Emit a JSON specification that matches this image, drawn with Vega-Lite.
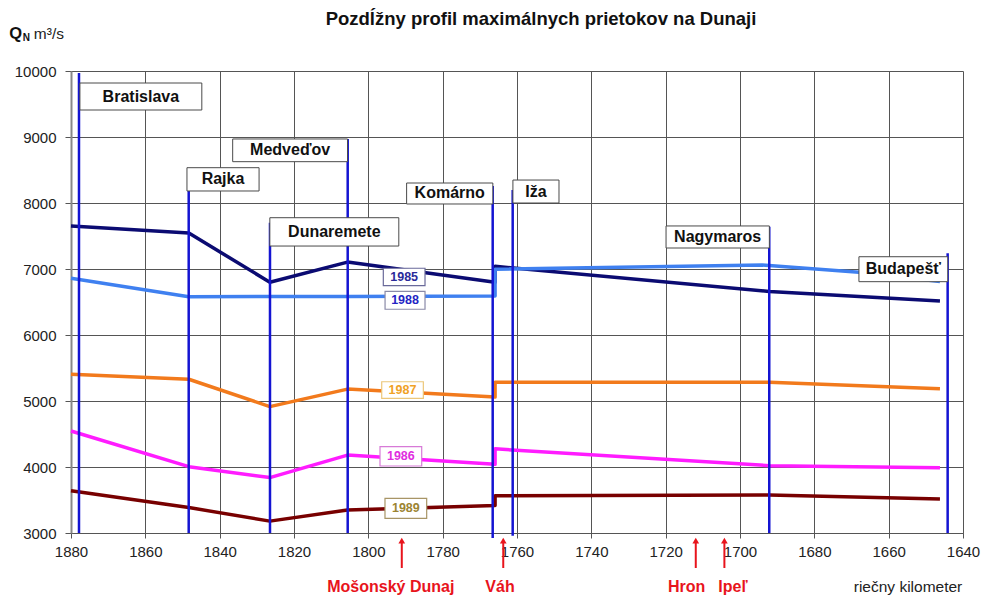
{
  "$schema": "https://vega.github.io/schema/vega-lite/v6.json",
  "width": 892,
  "height": 462,
  "autosize": "none",
  "padding": {"left": 71, "top": 71, "right": 20, "bottom": 65},
  "background": "white",
  "config": {
    "font": "Liberation Sans",
    "view": {"stroke": null},
    "axis": {"labelFont": "Liberation Sans"}
  },
  "title": {
    "text": "Pozdĺžny profil  maximálnych prietokov na Dunaji",
    "fontSize": 18.5,
    "fontWeight": "bold",
    "color": "#111",
    "anchor": "middle",
    "dx": 24,
    "offset": 0,
    "dy": 2
  },
  "datasets": {
    "series": [
      {"year": "1985", "o": 1, "km": 1880, "q": 7650},
      {"year": "1985", "o": 2, "km": 1848.3, "q": 7545},
      {"year": "1985", "o": 3, "km": 1826.5, "q": 6800},
      {"year": "1985", "o": 4, "km": 1805.6, "q": 7105},
      {"year": "1985", "o": 5, "km": 1765.9, "q": 6800},
      {"year": "1985", "o": 6, "km": 1765.9, "q": 7040},
      {"year": "1985", "o": 7, "km": 1692.1, "q": 6660},
      {"year": "1985", "o": 8, "km": 1646.2, "q": 6515},
      {"year": "1988", "o": 1, "km": 1880, "q": 6860},
      {"year": "1988", "o": 2, "km": 1848.3, "q": 6580},
      {"year": "1988", "o": 3, "km": 1805.6, "q": 6585},
      {"year": "1988", "o": 4, "km": 1765.9, "q": 6590},
      {"year": "1988", "o": 5, "km": 1765.9, "q": 6995},
      {"year": "1988", "o": 6, "km": 1694, "q": 7060},
      {"year": "1988", "o": 7, "km": 1668, "q": 6950},
      {"year": "1988", "o": 8, "km": 1646.2, "q": 6810},
      {"year": "1987", "o": 1, "km": 1880, "q": 5405},
      {"year": "1987", "o": 2, "km": 1848.3, "q": 5330},
      {"year": "1987", "o": 3, "km": 1826.5, "q": 4915},
      {"year": "1987", "o": 4, "km": 1805.6, "q": 5180},
      {"year": "1987", "o": 5, "km": 1765.9, "q": 5060},
      {"year": "1987", "o": 6, "km": 1765.9, "q": 5285},
      {"year": "1987", "o": 7, "km": 1692.1, "q": 5285},
      {"year": "1987", "o": 8, "km": 1646.2, "q": 5185},
      {"year": "1986", "o": 1, "km": 1880, "q": 4545},
      {"year": "1986", "o": 2, "km": 1848.3, "q": 4005},
      {"year": "1986", "o": 3, "km": 1826.5, "q": 3840},
      {"year": "1986", "o": 4, "km": 1805.6, "q": 4180},
      {"year": "1986", "o": 5, "km": 1765.9, "q": 4040},
      {"year": "1986", "o": 6, "km": 1765.9, "q": 4275},
      {"year": "1986", "o": 7, "km": 1692.1, "q": 4020},
      {"year": "1986", "o": 8, "km": 1646.2, "q": 3990},
      {"year": "1989", "o": 1, "km": 1880, "q": 3640},
      {"year": "1989", "o": 2, "km": 1848.3, "q": 3385},
      {"year": "1989", "o": 3, "km": 1826.5, "q": 3180},
      {"year": "1989", "o": 4, "km": 1805.6, "q": 3350},
      {"year": "1989", "o": 5, "km": 1765.9, "q": 3415},
      {"year": "1989", "o": 6, "km": 1765.9, "q": 3565},
      {"year": "1989", "o": 7, "km": 1692.1, "q": 3575},
      {"year": "1989", "o": 8, "km": 1646.2, "q": 3515}
    ],
    "stations": [
      {"name": "Bratislava", "km": 1877.85, "top": 9970, "bottom": 3000, "x1": 1877.6, "x2": 1844.8, "y1": 9409, "y2": 9818},
      {"name": "Rajka", "km": 1848.33, "top": 8182, "bottom": 3000, "x1": 1848.8, "x2": 1829.4, "y1": 8182, "y2": 8535},
      {"name": "Dunaremete", "km": 1826.46, "top": 7700, "bottom": 3000, "x1": 1826.5, "x2": 1791.8, "y1": 7348, "y2": 7777},
      {"name": "Medveďov", "km": 1805.55, "top": 8970, "bottom": 3000, "x1": 1836.5, "x2": 1805.6, "y1": 8626, "y2": 8970},
      {"name": "Komárno", "km": 1766.54, "top": 8258, "bottom": 2925, "x1": 1789.7, "x2": 1766.5, "y1": 7985, "y2": 8303},
      {"name": "Iža", "km": 1761.16, "top": 8197, "bottom": 2960, "x1": 1761.1, "x2": 1748.7, "y1": 8000, "y2": 8348},
      {"name": "Nagymaros", "km": 1692.13, "top": 7641, "bottom": 3000, "x1": 1719.9, "x2": 1692.1, "y1": 7318, "y2": 7652},
      {"name": "Budapešť", "km": 1644.13, "top": 7238, "bottom": 3000, "x1": 1668, "x2": 1644.1, "y1": 6808, "y2": 7186}
    ],
    "yearLabels": [
      {"year": "1985", "x1": 1795.97, "x2": 1784.75, "y1": 6747, "y2": 7011},
      {"year": "1988", "x1": 1795.5, "x2": 1784.75, "y1": 6390, "y2": 6660},
      {"year": "1987", "x1": 1796.4, "x2": 1785.2, "y1": 5040, "y2": 5292},
      {"year": "1986", "x1": 1796.86, "x2": 1785.64, "y1": 4015, "y2": 4308},
      {"year": "1989", "x1": 1795.52, "x2": 1784.3, "y1": 3222, "y2": 3525}
    ],
    "rivers": [
      {"river": "Mošonský Dunaj", "km": 1791.0, "lkm": 1793.96},
      {"river": "Váh", "km": 1763.7, "lkm": 1764.57},
      {"river": "Hron", "km": 1711.9, "lkm": 1714.35},
      {"river": "Ipeľ", "km": 1704.2, "lkm": 1701.9}
    ]
  },
  "layer": [
    {
      "data": {"name": "series"},
      "mark": {"type": "line", "strokeWidth": 3.5, "strokeJoin": "round"},
      "encoding": {
        "x": {
          "field": "km", "type": "quantitative",
          "scale": {"domain": [1640, 1880], "reverse": true, "nice": false, "zero": false},
          "axis": {
            "values": [1880, 1860, 1840, 1820, 1800, 1780, 1760, 1740, 1720, 1700, 1680, 1660, 1640],
            "format": "d", "title": null, "grid": true, "gridColor": "#555", "gridWidth": 1,
            "domainColor": "#555", "tickColor": "#555", "tickSize": 5,
            "labelFontSize": 15, "labelColor": "#222", "labelPadding": 6, "labelFlush": false
          }
        },
        "y": {
          "field": "q", "type": "quantitative",
          "scale": {"domain": [3000, 10000], "nice": false, "zero": false},
          "axis": {
            "values": [3000, 4000, 5000, 6000, 7000, 8000, 9000, 10000],
            "format": "d", "title": null, "grid": true, "gridColor": "#555", "gridWidth": 1,
            "domainColor": "#888", "domainWidth": 2, "tickColor": "#555", "tickSize": 6,
            "labelFontSize": 15, "labelColor": "#222", "labelPadding": 9
          }
        },
        "color": {
          "field": "year", "type": "nominal", "legend": null,
          "scale": {"domain": ["1985", "1988", "1987", "1986", "1989"],
                    "range": ["#0b0b72", "#3f80f0", "#f27a1c", "#ff1cff", "#780000"]}
        },
        "order": {"field": "o", "type": "quantitative"}
      }
    },
    {
      "data": {"name": "stations"},
      "mark": {"type": "rule", "color": "#1414d2", "strokeWidth": 2.5},
      "encoding": {
        "x": {"field": "km", "type": "quantitative"},
        "y": {"field": "bottom", "type": "quantitative"},
        "y2": {"field": "top"}
      }
    },
    {
      "data": {"name": "stations"},
      "mark": {"type": "rect", "fill": "white", "stroke": "#4a4a4a", "strokeWidth": 1},
      "encoding": {
        "x": {"field": "x1", "type": "quantitative"},
        "x2": {"field": "x2"},
        "y": {"field": "y1", "type": "quantitative"},
        "y2": {"field": "y2"}
      }
    },
    {
      "data": {"name": "stations"},
      "transform": [
        {"calculate": "(datum.x1 + datum.x2) / 2", "as": "cx"},
        {"calculate": "(datum.y1 + datum.y2) / 2", "as": "cy"}
      ],
      "mark": {"type": "text", "fontSize": 16, "fontWeight": "bold", "color": "#111", "align": "center", "baseline": "middle"},
      "encoding": {
        "x": {"field": "cx", "type": "quantitative"},
        "y": {"field": "cy", "type": "quantitative"},
        "text": {"field": "name"}
      }
    },
    {
      "data": {"name": "yearLabels"},
      "mark": {"type": "rect", "fill": "white", "strokeWidth": 1.2},
      "encoding": {
        "x": {"field": "x1", "type": "quantitative"},
        "x2": {"field": "x2"},
        "y": {"field": "y1", "type": "quantitative"},
        "y2": {"field": "y2"},
        "stroke": {
          "field": "year", "type": "nominal", "legend": null,
          "scale": {"domain": ["1985", "1988", "1987", "1986", "1989"],
                    "range": ["#6a6a9a", "#8a8aa8", "#ecc77a", "#d77ad7", "#a89566"]}
        }
      }
    },
    {
      "data": {"name": "yearLabels"},
      "transform": [
        {"calculate": "(datum.x1 + datum.x2) / 2", "as": "cx"},
        {"calculate": "(datum.y1 + datum.y2) / 2", "as": "cy"}
      ],
      "mark": {"type": "text", "fontSize": 12.5, "fontWeight": "bold", "align": "center", "baseline": "middle"},
      "encoding": {
        "x": {"field": "cx", "type": "quantitative"},
        "y": {"field": "cy", "type": "quantitative"},
        "text": {"field": "year"},
        "fill": {
          "field": "year", "type": "nominal", "legend": null,
          "scale": {"domain": ["1985", "1988", "1987", "1986", "1989"],
                    "range": ["#2a2a9a", "#2424c4", "#f0a226", "#e02ee0", "#9c8432"]}
        }
      }
    },
    {
      "data": {"name": "rivers"},
      "mark": {"type": "rule", "color": "#e8141c", "strokeWidth": 2},
      "encoding": {
        "x": {"field": "km", "type": "quantitative"},
        "y": {"datum": 2470},
        "y2": {"datum": 2880}
      }
    },
    {
      "data": {"name": "rivers"},
      "mark": {"type": "point", "shape": "triangle-up", "filled": true, "color": "#e8141c", "size": 45, "opacity": 1},
      "encoding": {
        "x": {"field": "km", "type": "quantitative"},
        "y": {"datum": 2885}
      }
    },
    {
      "data": {"name": "rivers"},
      "mark": {"type": "text", "fontSize": 16, "fontWeight": "bold", "color": "#e8141c", "align": "center", "baseline": "middle"},
      "encoding": {
        "x": {"field": "lkm", "type": "quantitative"},
        "y": {"datum": 2182},
        "text": {"field": "river"}
      }
    },
    {
      "data": {"values": [{}]},
      "mark": {"type": "text", "fontSize": 15.5, "color": "#222", "align": "center", "baseline": "middle"},
      "encoding": {
        "x": {"datum": 1654.8},
        "y": {"datum": 2182},
        "text": {"value": "riečny kilometer"}
      }
    },
    {
      "data": {"values": [{}]},
      "mark": {"type": "text", "fontSize": 16.5, "fontWeight": "bold", "color": "#111", "align": "left", "baseline": "alphabetic"},
      "encoding": {
        "x": {"datum": 1896.6},
        "y": {"datum": 10480},
        "text": {"value": "Q"}
      }
    },
    {
      "data": {"values": [{}]},
      "mark": {"type": "text", "fontSize": 10, "fontWeight": "bold", "color": "#111", "align": "left", "baseline": "alphabetic"},
      "encoding": {
        "x": {"datum": 1893.0},
        "y": {"datum": 10450},
        "text": {"value": "N"}
      }
    },
    {
      "data": {"values": [{}]},
      "mark": {"type": "text", "fontSize": 15.5, "color": "#222", "align": "left", "baseline": "alphabetic"},
      "encoding": {
        "x": {"datum": 1890.0},
        "y": {"datum": 10480},
        "text": {"value": "m³/s"}
      }
    }
  ],
  "resolve": {"scale": {"color": "independent", "stroke": "independent", "fill": "independent"}}
}
